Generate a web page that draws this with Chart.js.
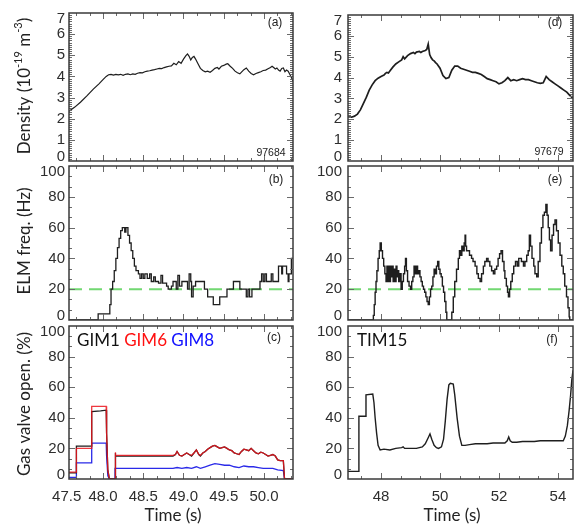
<!DOCTYPE html>
<html><head><meta charset="utf-8">
<script src="https://cdn.jsdelivr.net/npm/chart.js@4.4.0/dist/chart.umd.min.js"></script>
<style>
html,body{margin:0;padding:0;background:#fff;overflow:hidden;}
#wrap{position:relative;width:577px;height:530px;overflow:hidden;background:#fff;}
#wrap canvas{position:absolute;left:0;top:0;}
</style></head><body>
<div id="wrap">
<canvas id="pa" width="577" height="530"></canvas>
<canvas id="pb" width="577" height="530"></canvas>
<canvas id="pc" width="577" height="530"></canvas>
<canvas id="pd" width="577" height="530"></canvas>
<canvas id="pe" width="577" height="530"></canvas>
<canvas id="pf" width="577" height="530"></canvas>
</div>
<script>
// ---------------- DATA ----------------
const densTicks = [0,1,2,3,4,5,6,7];
const pctTicks = [0,20,40,60,80,100];
const xTicksLeft = [47.5,48.0,48.5,49.0,49.5,50.0];
const xTicksRight = [48,50,52,54];
const xRangeLeft = [47.578, 50.36];
const xRangeRight = [46.88, 54.51];
const elmThreshold = 20;

const panelTags = ['(a)','(b)','(c)','(d)','(e)','(f)'];
const shotIds = ['97684','97679'];
const gimNames = ['GIM1','GIM6','GIM8'];
const timName = 'TIM15';
const yTitleDensity = ['Density (10','-19',' m','-3',')'];
const yTitleElm = 'ELM freq. (Hz)';
const yTitleGas = 'Gas valve open. (%)';
const xTitle = 'Time (s)';

// (a) density, shot 97684
const densA = [[47.578,2.35],[47.65,2.55],[47.72,2.78],[47.80,3.08],[47.88,3.4],[47.95,3.65],[48.00,3.85],[48.04,4.0],[48.07,4.08],[48.10,4.1],[48.13,4.06],[48.16,4.1],[48.19,4.07],[48.22,4.1],[48.25,4.05],[48.28,4.1],[48.31,4.12],[48.34,4.08],[48.37,4.12],[48.40,4.1],[48.43,4.15],[48.46,4.18],[48.49,4.17],[48.52,4.22],[48.55,4.25],[48.58,4.27],[48.61,4.3],[48.64,4.32],[48.67,4.35],[48.70,4.38],[48.73,4.37],[48.76,4.42],[48.79,4.45],[48.82,4.48],[48.85,4.5],[48.88,4.62],[48.91,4.55],[48.94,4.7],[48.97,4.62],[49.00,4.82],[49.03,4.98],[49.05,5.06],[49.07,4.95],[49.09,4.78],[49.11,4.9],[49.13,4.95],[49.15,4.82],[49.18,4.6],[49.21,4.38],[49.24,4.28],[49.27,4.22],[49.30,4.25],[49.33,4.2],[49.36,4.28],[49.39,4.38],[49.42,4.42],[49.44,4.35],[49.47,4.48],[49.50,4.52],[49.53,4.58],[49.55,4.6],[49.58,4.48],[49.61,4.38],[49.64,4.25],[49.67,4.17],[49.70,4.12],[49.72,4.2],[49.75,4.32],[49.78,4.4],[49.81,4.25],[49.84,4.14],[49.87,4.08],[49.90,4.14],[49.93,4.18],[49.96,4.22],[49.99,4.28],[50.02,4.3],[50.05,4.36],[50.08,4.42],[50.10,4.48],[50.12,4.42],[50.14,4.35],[50.16,4.4],[50.18,4.3],[50.20,4.25],[50.22,4.38],[50.24,4.4],[50.26,4.22],[50.28,4.3],[50.30,4.25],[50.32,4.1],[50.34,3.95],[50.36,3.78]];

// (d) density, shot 97679
const densD = [[46.88,2.1],[47.0,2.1],[47.1,2.15],[47.2,2.25],[47.3,2.45],[47.4,2.75],[47.5,3.05],[47.6,3.4],[47.7,3.65],[47.8,3.85],[47.9,3.97],[48.0,4.05],[48.1,4.12],[48.15,4.2],[48.2,4.25],[48.25,4.22],[48.3,4.32],[48.4,4.5],[48.5,4.65],[48.6,4.75],[48.7,4.85],[48.75,5.0],[48.8,4.9],[48.9,5.05],[49.0,5.15],[49.1,5.2],[49.15,5.15],[49.2,5.22],[49.3,5.25],[49.35,5.2],[49.4,5.25],[49.5,5.3],[49.55,5.35],[49.6,5.6],[49.65,5.1],[49.7,4.95],[49.75,4.85],[49.8,4.8],[49.85,4.72],[49.9,4.65],[50.0,4.45],[50.1,4.1],[50.2,3.95],[50.3,4.0],[50.4,4.35],[50.5,4.55],[50.6,4.55],[50.7,4.45],[50.8,4.4],[50.9,4.35],[51.0,4.3],[51.1,4.25],[51.2,4.25],[51.3,4.2],[51.4,4.15],[51.5,4.05],[51.6,3.95],[51.7,3.9],[51.8,3.85],[51.9,3.8],[52.0,3.7],[52.1,3.75],[52.2,3.85],[52.3,4.0],[52.4,3.85],[52.5,3.9],[52.6,3.85],[52.7,3.9],[52.8,3.95],[52.9,3.9],[53.0,3.9],[53.1,3.85],[53.2,3.8],[53.3,3.75],[53.4,3.72],[53.5,3.75],[53.6,4.05],[53.7,3.9],[53.8,3.8],[53.9,3.7],[54.0,3.6],[54.1,3.5],[54.2,3.4],[54.3,3.3],[54.4,3.15],[54.51,3.0]];

// (b) ELM frequency, shot 97684 (step starts)
const elmB = [[47.578,0],[47.94,4],[48.085,10],[48.10,20],[48.12,25],[48.14,32],[48.16,40],[48.18,47],[48.20,53],[48.22,58],[48.24,60],[48.27,57],[48.285,60],[48.31,55],[48.33,50],[48.35,45],[48.37,40],[48.39,35],[48.41,32],[48.44,30],[48.46,27],[48.48,30],[48.50,27],[48.52,30],[48.55,27],[48.58,30],[48.60,25],[48.63,28],[48.65,25],[48.69,24],[48.72,29],[48.74,24],[48.79,22],[48.81,20],[48.85,22],[48.87,25],[48.91,20],[48.93,29],[48.95,22],[48.98,25],[49.05,20],[49.07,30],[49.09,25],[49.10,15],[49.12,22],[49.15,25],[49.21,25],[49.26,20],[49.30,15],[49.37,10],[49.45,15],[49.54,20],[49.62,25],[49.70,20],[49.78,15],[49.80,20],[49.82,15],[49.85,20],[49.95,25],[49.97,30],[49.99,25],[50.01,30],[50.03,25],[50.09,30],[50.11,25],[50.18,35],[50.22,30],[50.23,35],[50.28,30],[50.30,25],[50.31,30],[50.34,40],[50.36,40]];

// (e) ELM frequency, shot 97679 (step starts)
const elmE = [[46.88,0],[47.74,3],[47.77,10],[47.80,18],[47.83,25],[47.86,32],[47.90,40],[47.94,45],[47.97,50],[48.01,45],[48.05,40],[48.09,35],[48.13,30],[48.17,25],[48.20,35],[48.23,25],[48.26,35],[48.29,25],[48.32,35],[48.35,28],[48.38,35],[48.41,25],[48.44,33],[48.48,25],[48.51,35],[48.54,28],[48.57,32],[48.60,25],[48.64,30],[48.68,20],[48.72,25],[48.76,30],[48.80,35],[48.83,40],[48.86,32],[48.90,25],[48.95,22],[49.00,20],[49.04,25],[49.08,28],[49.12,35],[49.16,30],[49.20,35],[49.24,30],[49.28,32],[49.32,28],[49.36,25],[49.40,22],[49.44,20],[49.48,18],[49.52,15],[49.56,12],[49.60,10],[49.64,15],[49.68,20],[49.72,22],[49.76,28],[49.80,33],[49.84,30],[49.88,35],[49.92,38],[49.96,33],[50.00,30],[50.04,28],[50.08,22],[50.12,18],[50.16,12],[50.20,5],[50.23,0],[50.40,5],[50.45,15],[50.50,25],[50.56,33],[50.62,40],[50.66,45],[50.70,42],[50.74,48],[50.78,45],[50.82,50],[50.85,55],[50.87,48],[50.90,45],[51.00,42],[51.07,40],[51.12,38],[51.19,35],[51.25,30],[51.30,27],[51.36,25],[51.41,30],[51.47,35],[51.52,38],[51.58,40],[51.63,38],[51.69,35],[51.75,32],[51.81,30],[51.86,33],[51.92,35],[51.97,40],[52.02,43],[52.07,45],[52.12,38],[52.17,32],[52.20,27],[52.25,22],[52.29,18],[52.32,15],[52.36,20],[52.40,25],[52.45,30],[52.50,35],[52.56,38],[52.62,35],[52.67,40],[52.76,38],[52.83,35],[52.88,38],[52.94,42],[52.99,45],[53.03,55],[53.07,48],[53.12,40],[53.18,35],[53.22,30],[53.28,28],[53.33,38],[53.39,50],[53.44,60],[53.49,68],[53.54,70],[53.59,75],[53.63,68],[53.67,60],[53.71,52],[53.75,45],[53.80,55],[53.85,62],[53.90,65],[53.95,58],[54.01,50],[54.07,42],[54.13,35],[54.18,30],[54.23,22],[54.29,15],[54.34,8],[54.38,2],[54.40,0],[54.51,0]];

// (c) gas valve opening, shot 97684
const gim1 = [[47.578,4],[47.67,4],[47.67,21.5],[47.86,21.5],[47.86,44],[47.97,44.5],[48.04,45],[48.045,30],[48.06,6],[48.08,0],[48.15,0],[48.15,17],[48.16,15],[48.87,15],[48.90,16],[48.92,18],[48.95,15.5],[48.98,15],[49.01,16],[49.04,17],[49.07,16],[49.10,15],[49.13,17],[49.16,19],[49.19,16],[49.21,15],[49.24,17],[49.27,18],[49.30,19.5],[49.33,20.5],[49.36,21.5],[49.39,22],[49.42,21],[49.45,20],[49.48,20.5],[49.51,21],[49.54,20],[49.57,19],[49.60,18.5],[49.63,17],[49.66,16.5],[49.69,16],[49.72,18],[49.75,19.5],[49.78,19],[49.81,18.5],[49.84,20],[49.87,18.5],[49.90,17],[49.93,16.5],[49.96,17.5],[49.99,17],[50.02,16],[50.05,15],[50.08,15.5],[50.11,16],[50.14,15],[50.17,12.5],[50.20,12],[50.24,12],[50.255,0],[50.36,0]];
const gim6 = [[47.578,4.5],[47.67,4.5],[47.67,20],[47.86,20],[47.86,47.5],[47.97,47.5],[48.04,47.5],[48.045,30],[48.06,6],[48.08,0],[48.15,0],[48.15,17.5],[48.16,15.5],[48.87,15.5],[48.90,16],[48.92,18],[48.95,15.5],[48.98,15],[49.01,16],[49.04,17],[49.07,16],[49.10,15.5],[49.13,17],[49.16,19],[49.19,16],[49.21,15.5],[49.24,17],[49.27,18],[49.30,19.5],[49.33,20.5],[49.36,21.5],[49.39,22],[49.42,21],[49.45,20],[49.48,20.5],[49.51,21],[49.54,20],[49.57,19],[49.60,18.5],[49.63,17],[49.66,16.5],[49.69,16],[49.72,18],[49.75,19.5],[49.78,19],[49.81,18.5],[49.84,20],[49.87,18.5],[49.90,17],[49.93,16.5],[49.96,17.5],[49.99,17],[50.02,16],[50.05,15],[50.08,15.5],[50.11,16],[50.14,15],[50.17,12.5],[50.20,12],[50.24,12],[50.255,0],[50.36,0]];
const gim8 = [[47.578,1],[47.67,1],[47.67,10.5],[47.86,10.5],[47.86,23.5],[48.04,23.5],[48.045,15],[48.06,2],[48.08,0],[48.15,0],[48.15,7],[48.87,7],[48.92,7.5],[48.98,7],[49.04,7.5],[49.10,7],[49.16,8],[49.21,7],[49.27,8],[49.33,9],[49.39,10],[49.45,9.5],[49.51,9],[49.57,9],[49.63,8],[49.69,7.5],[49.75,8.5],[49.81,8],[49.87,8],[49.93,7.5],[49.99,7],[50.05,7],[50.11,7],[50.17,6],[50.24,5.5],[50.255,0],[50.36,0]];

// (f) TIM15 valve opening, shot 97679
const tim15 = [[46.88,5],[47.25,5],[47.25,41],[47.49,41],[47.49,55],[47.72,55.5],[47.76,50],[47.80,40],[47.85,30],[47.90,22],[47.97,19],[48.10,19.5],[48.30,19],[48.50,20],[48.70,20.5],[48.75,21],[48.80,20],[49.00,20],[49.20,20],[49.40,21],[49.50,23],[49.60,27],[49.66,29.5],[49.72,26],[49.80,22],[49.88,20.5],[49.95,20],[50.05,21],[50.12,26],[50.18,38],[50.24,52],[50.30,61.5],[50.35,62.5],[50.45,62],[50.50,55],[50.58,40],[50.66,28],[50.74,22],[50.85,22],[51.00,22.5],[51.20,23],[51.40,23],[51.60,23],[51.80,23.5],[52.00,23.5],[52.20,23.5],[52.28,25],[52.33,27.5],[52.38,25],[52.45,24],[52.60,24],[52.80,24.5],[53.00,24.5],[53.20,24.5],[53.40,25],[53.60,25],[53.80,25],[54.00,25],[54.18,25],[54.25,28],[54.32,35],[54.38,45],[54.43,55],[54.47,65],[54.51,71]];

// ---------------- LAYOUT ----------------
const W = 577, H = 530;
const COLS = { L: [69, 293], R: [348, 573] };
const ROWS = { 1: [7, 161], 2: [166, 320], 3: [326, 479] };
const TICK_FONT = { family: 'Liberation Sans', size: 15 };
const TXT = 'Lato';

function toXY(arr) { return arr.map(p => ({ x: p[0], y: p[1] })); }

function framePlugin(cfg) {
  return {
    id: 'frame',
    afterDatasetsDraw(chart) {
      const { ctx, chartArea: a, scales: { x, y } } = chart;
      ctx.save();
      ctx.strokeStyle = '#6a6a6a'; ctx.lineWidth = 1;
      ctx.beginPath();
      const xt = (v, len) => { const p = Math.round(x.getPixelForValue(v)) + 0.5; if (p <= a.left + 1 || p >= a.right - 1) return; ctx.moveTo(p, a.top); ctx.lineTo(p, a.top + len); ctx.moveTo(p, a.bottom); ctx.lineTo(p, a.bottom - len); };
      const yt = (v, len) => { const p = Math.round(y.getPixelForValue(v)) + 0.5; if (p <= a.top + 1 || p >= a.bottom - 1) return; ctx.moveTo(a.left, p); ctx.lineTo(a.left + len, p); ctx.moveTo(a.right, p); ctx.lineTo(a.right - len, p); };
      const xs = cfg.xTicks[1] - cfg.xTicks[0];
      for (let i = -3; ; i++) { const v = cfg.xTicks[0] + i * xs / 3; if (v > x.max) break; xt(v, 3); }
      cfg.xTicks.forEach(v => xt(v, 6));
      const ys = cfg.yTicks[1] - cfg.yTicks[0];
      for (let i = 0; ; i++) { const v = cfg.yTicks[0] + i * ys / cfg.yMinorN; if (v > y.max) break; yt(v, 3); }
      cfg.yTicks.forEach(v => yt(v, 6));
      ctx.stroke();
      ctx.strokeStyle = '#3a3a3a'; ctx.lineWidth = 1.5;
      ctx.strokeRect(a.left, a.top, a.right - a.left, a.bottom - a.top);
      ctx.restore();
    }
  };
}

function textPlugin(items) {
  return {
    id: 'texts',
    afterDraw(chart) {
      const ctx = chart.ctx;
      items.forEach(it => {
        ctx.save();
        ctx.translate(it.x, it.y);
        if (it.rot) ctx.rotate(it.rot);
        const fam = it.family || TXT;
        const fontOf = s => (s.sup ? Math.round(it.size * 0.62) : it.size) + 'px "' + fam + '"';
        const widths = it.segs.map(s => { ctx.font = fontOf(s); return ctx.measureText(s.t).width; });
        const total = widths.reduce((p, c) => p + c, 0);
        let cx = it.align === 'left' ? 0 : it.align === 'right' ? -total : -total / 2;
        ctx.textBaseline = 'middle'; ctx.textAlign = 'left';
        it.segs.forEach((s, i) => {
          ctx.font = fontOf(s);
          ctx.fillStyle = s.color || it.color || '#222';
          ctx.fillText(s.t, cx, s.sup ? -it.size * 0.4 : 0);
          cx += widths[i];
        });
        ctx.restore();
      });
    }
  };
}

function makePanel(id, o) {
  const [bl, br] = COLS[o.col];
  const [bt, bb] = ROWS[o.row];
  const padL = o.col === 'L' ? 0 : 300;
  const isBottom = o.row === 3;
  const xAxisH = 40;
  const ymin = o.yTicks[0], ymax = o.yTicks[o.yTicks.length - 1];
  const ppu = (bb - bt) / (ymax - ymin);
  const xr = o.col === 'L' ? xRangeLeft : xRangeRight;
  const xTicks = o.col === 'L' ? xTicksLeft : xTicksRight;
  const xppu = (br - bl) / (xr[1] - xr[0]);
  const xNudge = o.col === 'L' ? [4, 0, 0, 0, 0, 0] : [0, 0, 0, 0];
  const yNudge = o.yTicks.map((v, i) => i === 0 ? 4 : (i === o.yTicks.length - 1 ? -6 : 0));
  new Chart(document.getElementById(id), {
    type: 'line',
    data: { datasets: o.datasets },
    options: {
      responsive: false, animation: false, events: [],
      layout: { padding: { left: padL, top: bt, right: W - br, bottom: isBottom ? H - bb - xAxisH : H - bb } },
      plugins: { legend: { display: false }, tooltip: { enabled: false } },
      elements: { point: { radius: 0 }, line: { tension: 0 } },
      scales: {
        x: {
          type: 'linear', min: xr[0], max: xr[1], display: isBottom,
          grid: { display: false, drawTicks: false }, border: { display: false },
          afterBuildTicks: s => { s.ticks = xTicks.map((v, i) => ({ value: v + xNudge[i] / xppu })); },
          afterFit: s => { s.height = isBottom ? xAxisH : 0; },
          ticks: { autoSkip: false, maxRotation: 0, minRotation: 0, padding: 9, font: TICK_FONT, color: '#2e2e2e',
            callback: (v, i) => o.col === 'L' ? xTicks[i].toFixed(1) : String(xTicks[i]) }
        },
        y: {
          type: 'linear', min: ymin, max: ymax,
          grid: { display: false, drawTicks: false }, border: { display: false },
          afterBuildTicks: s => { s.ticks = o.yTicks.map((v, i) => ({ value: v + yNudge[i] / ppu })); },
          afterFit: s => { s.width = bl - padL; },
          ticks: { autoSkip: false, padding: o.col === 'L' ? 4 : 6, font: TICK_FONT, color: '#2e2e2e',
            callback: (v, i) => String(o.yTicks[i]) }
        }
      }
    },
    plugins: [framePlugin({ xTicks: xTicks, yTicks: o.yTicks, yMinorN: o.yMinorN }), textPlugin(o.texts)]
  });
}

const tagFont = { size: 12, family: 'Liberation Sans' };
const lineBlack = (arr, w, extra) => Object.assign({ data: toXY(arr), borderColor: '#1e1e1e', borderWidth: w, pointRadius: 0, fill: false }, extra || {});
const thresholdLine = (xr) => ({ data: [{ x: xr[0], y: elmThreshold }, { x: xr[1], y: elmThreshold }], borderColor: '#72d872', borderWidth: 2, borderDash: [13, 7], pointRadius: 0, fill: false });

makePanel('pa', { col: 'L', row: 1, yTicks: densTicks, yMinorN: 10,
  datasets: [lineBlack(densA, 1.2)],
  texts: [
    { x: 25, y: 86, rot: -Math.PI / 2, size: 17, segs: [{ t: yTitleDensity[0] }, { t: yTitleDensity[1], sup: true }, { t: yTitleDensity[2] }, { t: yTitleDensity[3], sup: true }, { t: yTitleDensity[4] }] },
    { x: 275, y: 23, size: tagFont.size, family: tagFont.family, segs: [{ t: panelTags[0] }] },
    { x: 271, y: 153, size: 10.5, family: 'Liberation Sans', segs: [{ t: shotIds[0] }] }
  ] });

makePanel('pb', { col: 'L', row: 2, yTicks: pctTicks, yMinorN: 3,
  datasets: [lineBlack(elmB, 1.3, { stepped: 'before' }), thresholdLine(xRangeLeft)],
  texts: [
    { x: 25, y: 241, rot: -Math.PI / 2, size: 17, segs: [{ t: yTitleElm }] },
    { x: 276, y: 180, size: tagFont.size, family: tagFont.family, segs: [{ t: panelTags[1] }] }
  ] });

makePanel('pc', { col: 'L', row: 3, yTicks: pctTicks, yMinorN: 3,
  datasets: [
    { data: toXY(gim6), borderColor: 'rgba(235,20,28,0.85)', borderWidth: 1.3, pointRadius: 0, fill: false },
    lineBlack(gim1, 1.3),
    { data: toXY(gim8), borderColor: '#2a2ae8', borderWidth: 1.3, pointRadius: 0, fill: false }
  ],
  texts: [
    { x: 25, y: 404, rot: -Math.PI / 2, size: 17, segs: [{ t: yTitleGas }] },
    { x: 274, y: 338, size: tagFont.size, family: tagFont.family, segs: [{ t: panelTags[2] }] },
    { x: 77, y: 341, size: 17, align: 'left', segs: [{ t: gimNames[0], color: '#111' }, { t: ' ' }, { t: gimNames[1], color: '#ff1010' }, { t: ' ' }, { t: gimNames[2], color: '#1010ff' }] },
    { x: 173, y: 516, size: 17, segs: [{ t: xTitle }] }
  ] });

makePanel('pd', { col: 'R', row: 1, yTicks: densTicks, yMinorN: 10,
  datasets: [lineBlack(densD, 1.7)],
  texts: [
    { x: 555, y: 23, size: tagFont.size, family: tagFont.family, segs: [{ t: panelTags[3] }] },
    { x: 549, y: 152, size: 10.5, family: 'Liberation Sans', segs: [{ t: shotIds[1] }] }
  ] });

makePanel('pe', { col: 'R', row: 2, yTicks: pctTicks, yMinorN: 3,
  datasets: [lineBlack(elmE, 1.4, { stepped: 'before' }), thresholdLine(xRangeRight)],
  texts: [
    { x: 555, y: 180, size: tagFont.size, family: tagFont.family, segs: [{ t: panelTags[4] }] }
  ] });

makePanel('pf', { col: 'R', row: 3, yTicks: pctTicks, yMinorN: 3,
  datasets: [lineBlack(tim15, 1.4)],
  texts: [
    { x: 552, y: 340, size: tagFont.size, family: tagFont.family, segs: [{ t: panelTags[5] }] },
    { x: 357, y: 341, size: 17, align: 'left', segs: [{ t: timName, color: '#111' }] },
    { x: 452, y: 516, size: 17, segs: [{ t: xTitle }] }
  ] });
</script>
</body></html>
